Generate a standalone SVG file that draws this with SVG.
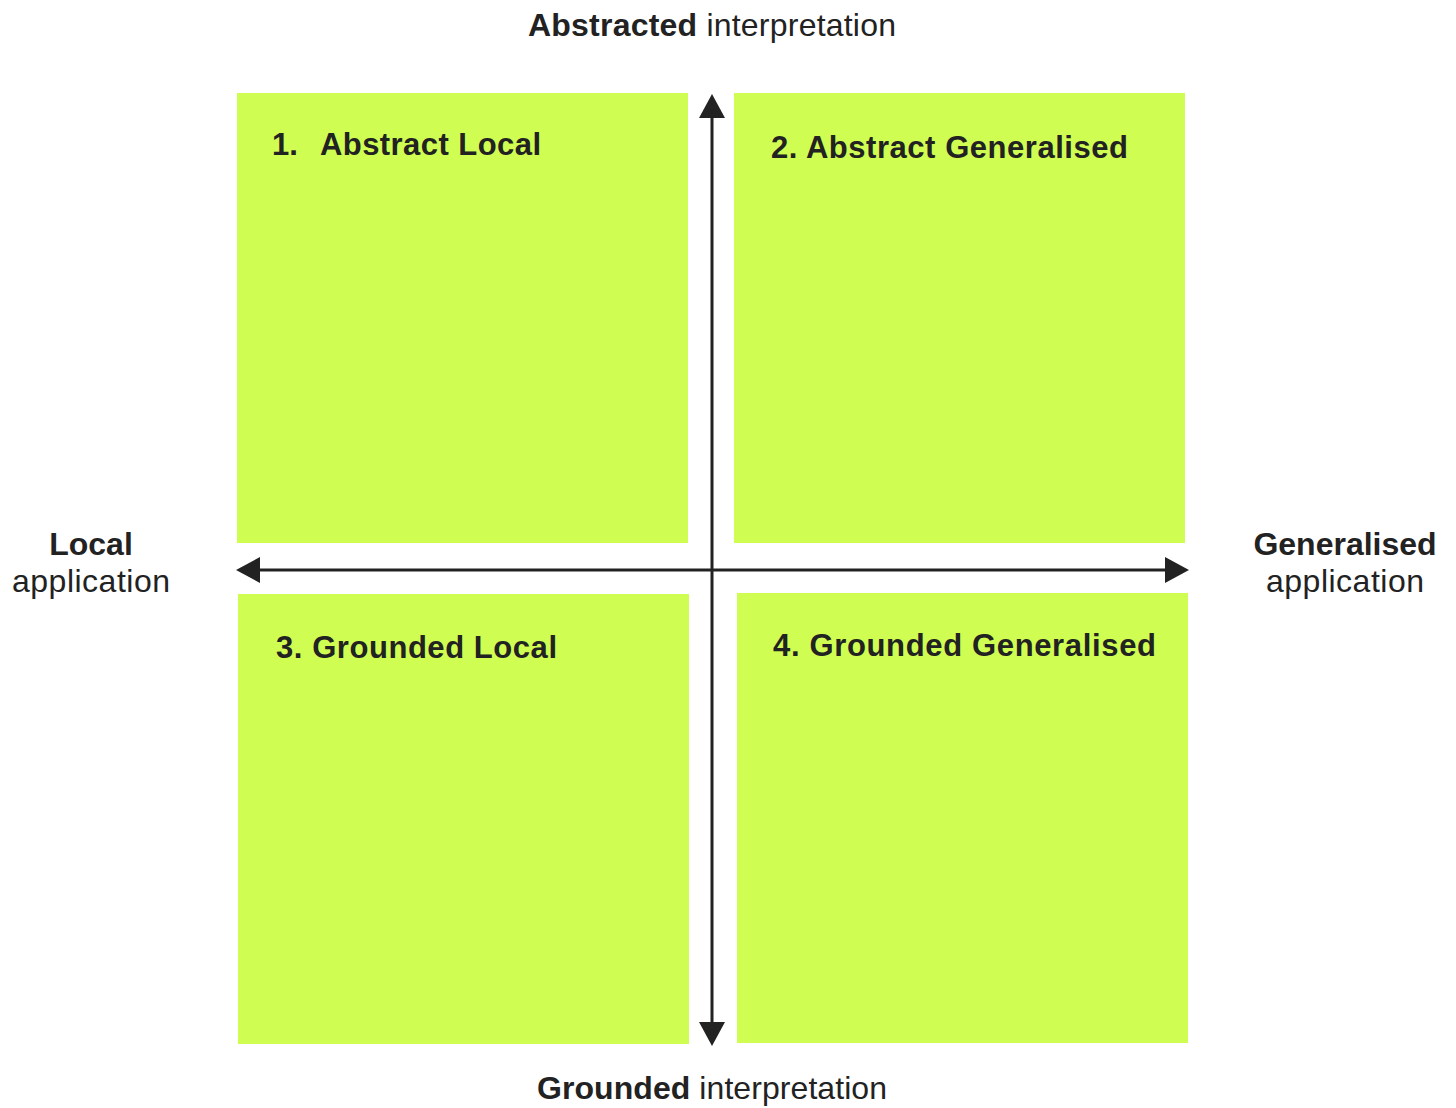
<svg xmlns="http://www.w3.org/2000/svg" width="1456" height="1108" viewBox="0 0 1456 1108">
  <style>
    .quad { fill: #CFFD51; }
    .label { font-family: "Liberation Sans", Arial, sans-serif; font-size: 31px; font-weight: bold; fill: #222; }
    .axis { font-family: "Liberation Sans", Arial, sans-serif; font-size: 32px; fill: #222; }
    .b { font-weight: bold; }
    .line { stroke: #222; stroke-width: 3; fill: none; }
    .head { fill: #222; }
  </style>
  <rect width="1456" height="1108" fill="#ffffff"/>

  <!-- quadrants -->
  <g id="q1">
    <rect class="quad" x="237" y="93" width="451" height="450"/>
    <text class="label" x="272" y="155">1.</text>
    <text class="label" x="320" y="155" textLength="221" lengthAdjust="spacing">Abstract Local</text>
  </g>
  <g id="q2">
    <rect class="quad" x="734" y="93" width="451" height="450"/>
    <text class="label" x="771" y="158" textLength="357" lengthAdjust="spacing">2. Abstract Generalised</text>
  </g>
  <g id="q3">
    <rect class="quad" x="238" y="594" width="451" height="450"/>
    <text class="label" x="276" y="658" textLength="281" lengthAdjust="spacing">3. Grounded Local</text>
  </g>
  <g id="q4">
    <rect class="quad" x="737" y="593" width="451" height="450"/>
    <text class="label" x="773" y="656" textLength="383" lengthAdjust="spacing">4. Grounded Generalised</text>
  </g>

  <!-- axes -->
  <g id="connectors">
    <line class="line" x1="712" y1="115" x2="712" y2="1025"/>
    <polygon class="head" points="712,94 725,118 699,118"/>
    <polygon class="head" points="712,1046 725,1022 699,1022"/>
    <line class="line" x1="258" y1="570" x2="1167" y2="570"/>
    <polygon class="head" points="236,570 260,557 260,583"/>
    <polygon class="head" points="1189,570 1165,557 1165,583"/>
  </g>

  <!-- axis labels -->
  <g id="label-top">
    <text class="axis" x="528" y="36" textLength="368" lengthAdjust="spacing"><tspan class="b">Abstracted</tspan> interpretation</text>
  </g>
  <g id="label-bottom">
    <text class="axis" x="537" y="1099" textLength="350" lengthAdjust="spacing"><tspan class="b">Grounded</tspan> interpretation</text>
  </g>
  <g id="label-left">
    <text class="axis b" x="91" y="555" text-anchor="middle">Local</text>
    <text class="axis" x="12" y="592" textLength="158" lengthAdjust="spacing">application</text>
  </g>
  <g id="label-right">
    <text class="axis b" x="1345" y="555" text-anchor="middle">Generalised</text>
    <text class="axis" x="1266" y="592" textLength="158" lengthAdjust="spacing">application</text>
  </g>
</svg>
